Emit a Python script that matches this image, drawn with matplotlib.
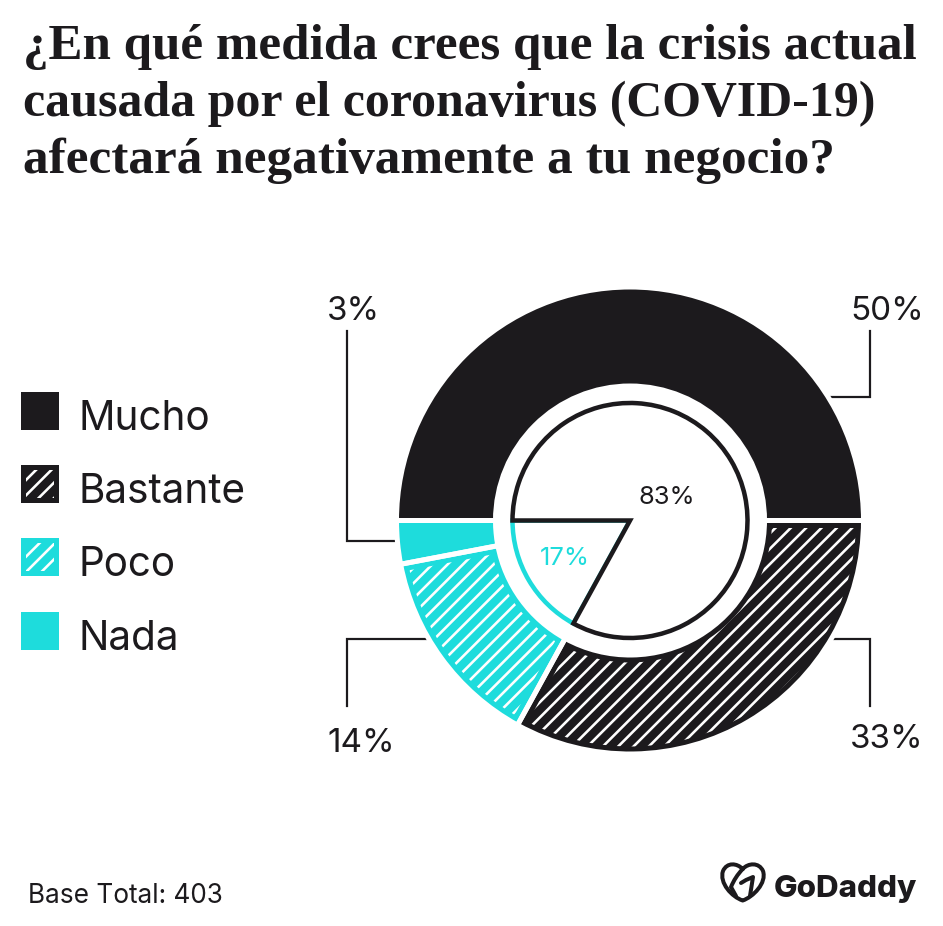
#!/usr/bin/env python3
"""Donut chart of expected coronavirus impact, with inner 83/17 summary pie."""
import matplotlib
matplotlib.use('Agg')
import matplotlib.pyplot as plt
from matplotlib.patches import PathPatch, Rectangle, Wedge
from matplotlib.path import Path

# Data
TITLE_LINES = ['¿En qué medida crees que la crisis actual',
               'causada por el coronavirus (COVID-19)',
               'afectará negativamente a tu negocio?']
CATEGORIES = ['Mucho', 'Bastante', 'Poco', 'Nada']
VALUES = [50, 33, 14, 3]
VALUE_LABELS = ['50%', '33%', '14%', '3%']
INNER_VALUES = [83, 17]
INNER_LABELS = ['83%', '17%']
BASE_NOTE = 'Base Total: 403'

DARK = '#1c1a1d'
TEAL = '#1edcdc'
COLORS = [DARK, DARK, TEAL, TEAL]
HATCHED = [False, True, True, False]

# dpi 92 makes the '//' hatch repeat every 15.3 px, same as the picture
DPI = 92
WIDTH, HEIGHT = 943, 927
PX = 72 / DPI  # one pixel in points
GAP = 5 * PX
SANS = 'Inter'
# The serif is a little wider than the original on some lines
TITLE_SIZES = [39.9, 39.0, 40.1]


def Y(py):
    """Convert a pixel row of the picture to a data y."""
    return HEIGHT - py


plt.rcParams['hatch.linewidth'] = 2.6 * PX

fig = plt.figure(figsize=(WIDTH / DPI, HEIGHT / DPI), dpi=DPI, facecolor='white')
ax = fig.add_axes([0, 0, 1, 1])

# Outer ring
center = (630, Y(521.5))
wedges, _ = ax.pie(VALUES, colors=COLORS, center=center, radius=233.5, startangle=180,
                   counterclock=False, wedgeprops={'width': 99, 'linewidth': 0})
for wedge, color, hatched in zip(wedges, COLORS, HATCHED):
    if hatched:
        wedge.set_edgecolor('white')
        wedge.set_hatch('//')
        # Solid margin around the hatching, only inside the wedge
        margin = Wedge(wedge.center, wedge.r, wedge.theta1, wedge.theta2, width=wedge.width,
                       facecolor='none', edgecolor=color, linewidth=15 * PX, zorder=3)
        ax.add_patch(margin)
        margin.set_clip_path(wedge)
    gap = Wedge(wedge.center, wedge.r, wedge.theta1, wedge.theta2, width=wedge.width,
                facecolor='none', edgecolor='white', linewidth=GAP, zorder=4)
    ax.add_patch(gap)

# Inner pie, teal part first so the black outline sits on top of it
inner, _ = ax.pie(INNER_VALUES, center=center, radius=117.5, startangle=180,
                  counterclock=False,
                  wedgeprops={'facecolor': 'white', 'linewidth': 4.5 * PX})
inner[0].set_edgecolor(DARK)
inner[0].set_zorder(6)
inner[1].set_edgecolor(TEAL)
inner[1].set_zorder(5)

ax.set_xlim(0, WIDTH)
ax.set_ylim(0, HEIGHT)
ax.set_aspect('auto')
ax.axis('off')

# Leader lines
leaders = [([827, 869.5, 869.5], [398, 398, 332]),
           ([830, 869.5, 869.5], [640, 640, 707]),
           ([428, 347, 347], [640, 640, 707]),
           ([397, 347, 347], [542, 542, 332])]
for xs, ys in leaders:
    ax.plot(xs, [Y(v) for v in ys], color=DARK, lw=2.2 * PX, solid_joinstyle='miter')

# Value labels
label_pos = [(850, 320), (850, 748), (327, 752), (327, 320)]
for text, (x, y) in zip(VALUE_LABELS, label_pos):
    ax.text(x, Y(y), text, fontsize=26, family=SANS, color=DARK, ha='left', va='baseline')
ax.text(638, Y(504), INNER_LABELS[0], fontsize=20, family=SANS, color=DARK, va='baseline',
        zorder=8)
ax.text(540, Y(565), INNER_LABELS[1], fontsize=20, family=SANS, color=TEAL, va='baseline',
        zorder=8)

# Legend
for i, (cat, color, hatched) in enumerate(zip(CATEGORIES, COLORS, HATCHED)):
    top = 393 + i * 73.2
    ax.add_patch(Rectangle((21, Y(top + 38)), 38, 38, facecolor=color, edgecolor='none', lw=0))
    if hatched:
        ax.add_patch(Rectangle((26, Y(top + 33)), 28, 28, facecolor='none', edgecolor='white',
                               lw=0, hatch='//', zorder=3))
    ax.text(78, Y(top + 37), cat, fontsize=31.7, family=SANS, color=DARK, va='baseline')

# Title
for i, (line, size) in enumerate(zip(TITLE_LINES, TITLE_SIZES)):
    ax.text(23, Y(58.5 + i * 57), line, fontsize=size, family='Liberation Serif', weight='bold',
            color=DARK, va='baseline')

ax.text(28, Y(903), BASE_NOTE, fontsize=20.5, family=SANS, color=DARK, va='baseline')

# GoDaddy logo
heart = Path([(742.7, 870), (737, 864), (727, 863), (723, 872), (719, 884), (732, 898),
              (742.7, 901.5), (753, 898), (767, 884), (763, 872), (759, 863), (748, 864),
              (742.7, 870)],
             [Path.MOVETO] + [Path.CURVE4] * 12)
swoosh = Path([(742.7, 870), (735, 878), (731, 888), (736, 897)],
              [Path.MOVETO] + [Path.CURVE3] * 2 + [Path.LINETO])
arrow = Path([(741, 884), (746, 881), (753, 878), (750, 897)],
             [Path.MOVETO, Path.LINETO, Path.LINETO, Path.LINETO])
for path in (heart, swoosh, arrow):
    verts = [(x, Y(y)) for x, y in path.vertices]
    ax.add_patch(PathPatch(Path(verts, path.codes), facecolor='none', edgecolor=DARK,
                           lw=4 * PX, capstyle='round', joinstyle='round'))
ax.text(774, Y(897), 'GoDaddy', fontsize=24.5, family=SANS, weight=800, color=DARK,
        va='baseline')

fig.savefig('out.png', dpi=DPI)
